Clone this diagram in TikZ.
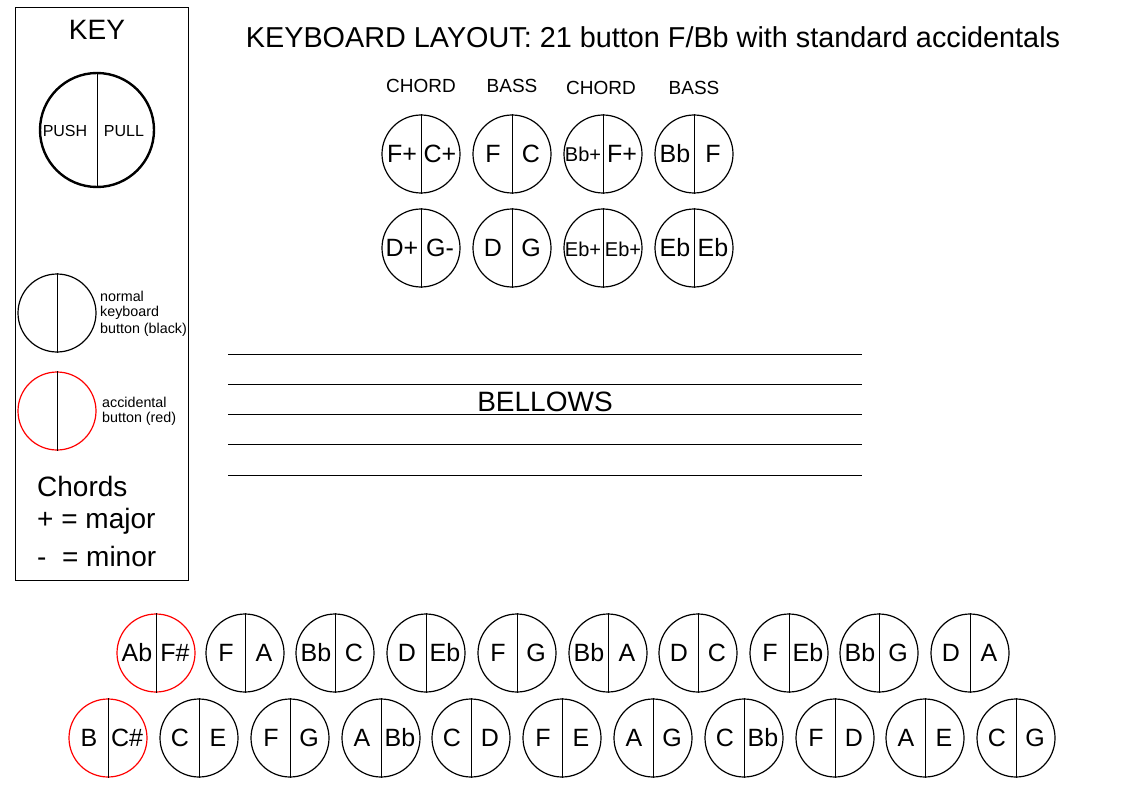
\documentclass[tikz,border=0pt]{standalone}
\usepackage{fontspec}
\setmainfont{Liberation Sans}
\begin{document}
\begin{tikzpicture}[x=1pt,y=-1pt,
  btn/.style={circle,draw,line width=1.2pt,minimum size=78pt,inner sep=0pt},
  lab/.style={font=\fontsize{25}{28}\selectfont,inner sep=0pt,text height=17pt,text depth=0pt},
  slab/.style={font=\fontsize{20}{22}\selectfont,inner sep=0pt,text height=14pt,text depth=0pt},
  small/.style={font=\fontsize{14.3}{16}\selectfont,inner sep=0pt,anchor=west},
  hdr/.style={font=\fontsize{19}{21}\selectfont,inner sep=0pt},
  big/.style={font=\fontsize{28}{30}\selectfont,inner sep=0pt}]
\useasboundingbox[fill=white] (0,0) rectangle (1123,794);
\newcommand\btn[6]{%
  \node[btn,draw=#6] (b#1) at (#2,#3) {};
  \draw[line width=0.8pt] (b#1.north) -- (b#1.south);
  \node[lab] at ([xshift=-19pt]b#1.center) {#4};
  \node[lab] at ([xshift=19pt]b#1.center) {#5};}
% key
\node[draw,line width=1pt,minimum width=173pt,minimum height=572pt,inner sep=0pt] (keybox) at (101.5,294) {};
\node[big] (keyt) at (97,30) {KEY};
\node[circle,draw,line width=2.4pt,minimum size=114pt,inner sep=0pt] (kbig) at (97,130) {};
\draw[line width=0.8pt] (kbig.north) -- (kbig.south);
\node[font=\fontsize{16}{18}\selectfont] (kpush) at (65,131) {PUSH};
\node[font=\fontsize{16}{18}\selectfont] (kpull) at (124,131) {PULL};
\node[btn] (knorm) at (57,313) {};
\draw[line width=0.8pt] (knorm.north) -- (knorm.south);
\node[small] (kn1) at (100,296) {normal};
\node[small] (kn2) at (100,313) {keyboard};
\node[small] (kn3) at (100,330) {button (black)};
\node[btn,draw=red] (kacc) at (57,411) {};
\draw[line width=0.8pt] (kacc.north) -- (kacc.south);
\node[small] (ka1) at (102,402) {accidental};
\node[small] (ka2) at (102,419) {button (red)};
\node[big,anchor=west] (c1) at (37,486) {Chords};
\node[big,anchor=west] (c2) at (37,521) {+ = major};
\node[big,anchor=west] (c3) at (37,556) {-\ \ = minor};
% title
\node[font=\fontsize{28.8}{31}\selectfont,inner sep=0pt] (title) at (653,37) {KEYBOARD LAYOUT: 21 button F/Bb with standard accidentals};
% chord/bass
\node[hdr] (h1) at (421,86) {CHORD};
\node[hdr] (h2) at (512,86) {BASS};
\node[hdr] (h3) at (601,88) {CHORD};
\node[hdr] (h4) at (694,88) {BASS};
\btn{a1}{421}{154}{F+}{C+}{black}
\btn{a2}{512}{154}{F}{C}{black}
\node[btn] (ba3) at (603,154) {};
\draw[line width=0.8pt] (ba3.north) -- (ba3.south);
\node[slab] (ba3l) at (583,155) {Bb+};
\node[lab] (ba3r) at (622,154) {F+};
\btn{a4}{694}{154}{Bb}{F}{black}
\btn{c1}{421}{248}{D+}{G-}{black}
\btn{c2}{512}{248}{D}{G}{black}
\node[btn] (bc3) at (603,248) {};
\draw[line width=0.8pt] (bc3.north) -- (bc3.south);
\node[slab] (bc3l) at (583,249) {Eb+};
\node[slab] (bc3r) at (623,249) {Eb+};
\btn{c4}{694}{248}{Eb}{Eb}{black}
% bellows
\foreach \yy/\n in {354/1,384/2,414/3,444/4,475/5}{
  \coordinate (bl\n) at (228,\yy); \coordinate (br\n) at (862,\yy);
  \draw[line width=1pt] (bl\n) -- (br\n);}
\node[big] (bel) at (545,402) {BELLOWS};
% row 1
\btn{r1}{156}{653}{Ab}{F\#}{red}
\btn{r2}{245}{653}{F}{A}{black}
\btn{r3}{335}{653}{Bb}{C}{black}
\btn{r4}{426}{653}{D}{Eb}{black}
\btn{r5}{517}{653}{F}{G}{black}
\btn{r6}{608}{653}{Bb}{A}{black}
\btn{r7}{698}{653}{D}{C}{black}
\btn{r8}{789}{653}{F}{Eb}{black}
\btn{r9}{879}{653}{Bb}{G}{black}
\btn{r10}{970}{653}{D}{A}{black}
% row 2
\btn{s1}{108}{738}{B}{C\#}{red}
\btn{s2}{199}{738}{C}{E}{black}
\btn{s3}{290}{738}{F}{G}{black}
\btn{s4}{381}{738}{A}{Bb}{black}
\btn{s5}{471}{738}{C}{D}{black}
\btn{s6}{562}{738}{F}{E}{black}
\btn{s7}{653}{738}{A}{G}{black}
\btn{s8}{744}{738}{C}{Bb}{black}
\btn{s9}{835}{738}{F}{D}{black}
\btn{s10}{925}{738}{A}{E}{black}
\btn{s11}{1016}{738}{C}{G}{black}
\end{tikzpicture}
\end{document}
